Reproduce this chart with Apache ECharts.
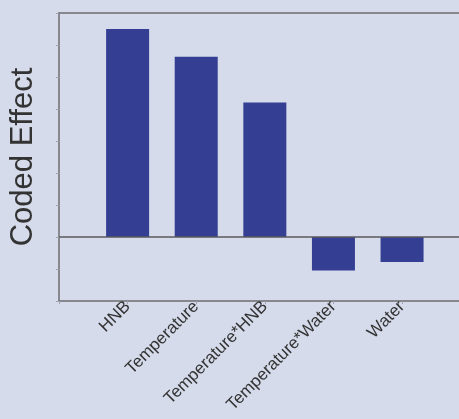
<!DOCTYPE html>
<html>
<head>
<meta charset="utf-8">
<script src="https://cdn.jsdelivr.net/npm/echarts@6/dist/echarts.min.js"></script>
<style>
  html, body { margin: 0; padding: 0; background: #d5dbea; }
  #main { width: 459px; height: 419px; }
</style>
</head>
<body>
<div id="main"></div>
<script>
// factor names and coded effects
var factors = ['HNB', 'Temperature', 'Temperature*HNB', 'Temperature*Water', 'Water'];
var effects = [6.5, 5.63, 4.2, -1.05, -0.78];
var yRange = [-2, 7];
var xRange = [0, 5.83];

var chart = echarts.init(document.getElementById('main'));

// bars sit at x = 1..5 on a value axis that runs past the last bar
var barData = factors.map(function (f, i) {
  return [i + 1, effects[i]];
});

var lineColor = '#6e6e72';

var option = {
  backgroundColor: '#d5dbea',
  animation: false,
  grid: { left: 58, top: 13, bottom: 118, right: 0 },
  xAxis: [{
    type: 'value',
    min: xRange[0],
    max: xRange[1],
    interval: 1,
    splitLine: { show: false },
    axisLine: { show: true, onZero: false, lineStyle: { color: lineColor, width: 1.5 } },
    axisTick: { show: true, length: 3, lineStyle: { color: '#a0a4ae' } },
    axisLabel: {
      rotate: 45,
      margin: 3,
      fontFamily: 'Liberation Sans',
      fontSize: 17,
      color: '#333',
      showMaxLabel: false,
      formatter: function (v) {
        return factors[v - 1] || '';
      }
    }
  }, {
    // plain frame line along the top
    type: 'value',
    position: 'top',
    min: xRange[0],
    max: xRange[1],
    splitLine: { show: false },
    axisLabel: { show: false },
    axisTick: { show: false },
    axisLine: { show: true, onZero: false, lineStyle: { color: lineColor, width: 1.5 } }
  }],
  yAxis: {
    type: 'value',
    min: yRange[0],
    max: yRange[1],
    interval: 1,
    name: 'Coded Effect',
    nameLocation: 'middle',
    nameGap: 20,
    nameTextStyle: { fontFamily: 'Liberation Sans', fontSize: 31, color: '#333' },
    splitLine: { show: false },
    axisLabel: { show: false },
    axisLine: { show: true, lineStyle: { color: lineColor, width: 1.5 } },
    axisTick: { show: true, length: 3, lineStyle: { color: '#a0a4ae' } }
  },
  series: [{
    type: 'bar',
    data: barData,
    barWidth: 43,
    itemStyle: { color: '#343f94' },
    markLine: {
      silent: true,
      symbol: 'none',
      label: { show: false },
      lineStyle: { color: '#5a5a5e', width: 1.5, type: 'solid' },
      data: [{ yAxis: 0 }]
    }
  }]
};

chart.setOption(option);
</script>
</body>
</html>
